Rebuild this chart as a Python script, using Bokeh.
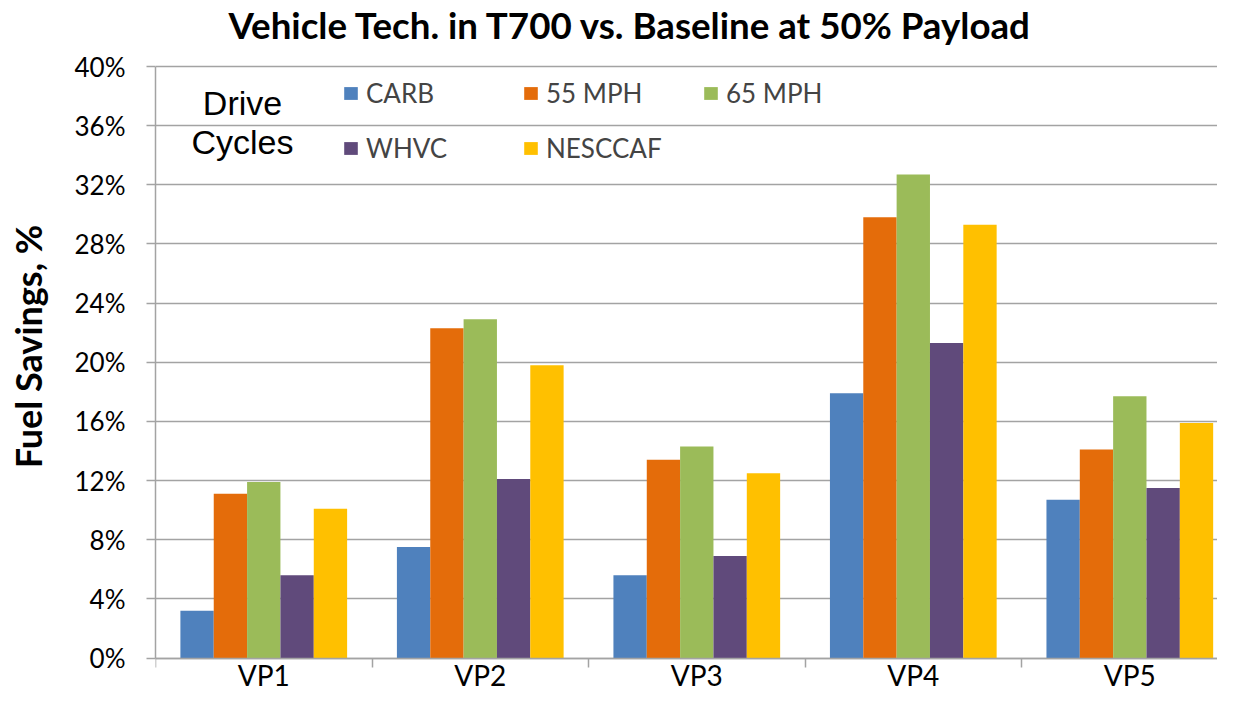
from bokeh.plotting import figure
from bokeh.models import (Range1d, FixedTicker, PrintfTickFormatter, Legend,
                          LegendItem, Label, ColumnDataSource)
from bokeh.embed import file_html
from bokeh.resources import INLINE

# ---------------- data ----------------
categories = ["VP1", "VP2", "VP3", "VP4", "VP5"]
series_names = ["CARB", "55 MPH", "65 MPH", "WHVC", "NESCCAF"]
carb = [3.2, 7.5, 5.6, 17.9, 10.7]
mph55 = [11.1, 22.3, 13.4, 29.8, 14.1]
mph65 = [11.9, 22.9, 14.3, 32.7, 17.7]
whvc = [5.6, 12.1, 6.9, 21.3, 11.5]
nesccaf = [10.1, 19.8, 12.5, 29.3, 15.9]
series_values = [carb, mph55, mph65, whvc, nesccaf]
colors = ["#4F81BD", "#E46C0A", "#9BBB59", "#604A7B", "#FFC000"]
y_ticks = [0, 4, 8, 12, 16, 20, 24, 28, 32, 36, 40]
title_text = "Vehicle Tech. in T700 vs. Baseline at 50% Payload"

FONT = "Lato"
GRID = "#A3A3A3"
H = 692                 # canvas height; the frame spans the full height
ZERO_LINE = 657.5       # px from top where the 0% line sits
TOP_LINE = 66           # px from top where the 40% line sits
Y_MAX = 40
px_per_unit = (ZERO_LINE - TOP_LINE) / Y_MAX
y_start = -(H - ZERO_LINE) / px_per_unit
y_end = Y_MAX + TOP_LINE / px_per_unit

p = figure(width=1217, height=H, x_range=Range1d(0, 4.905), y_range=Range1d(y_start, y_end),
           min_border_left=155, min_border_right=0, min_border_top=0, min_border_bottom=0,
           toolbar_location=None, output_backend="svg")
p.outline_line_color = None
p.background_fill_color = "white"
p.border_fill_color = "white"

bar_w = 0.154
offsets = [-2 * bar_w, -bar_w, 0, bar_w, 2 * bar_w]
renderers = []
for name, vals, col, off in zip(series_names, series_values, colors, offsets):
    src = ColumnDataSource(dict(x=[i + 0.5 + off for i in range(len(categories))], top=vals))
    r = p.vbar(x="x", top="top", width=bar_w, bottom=0, source=src, fill_color=col, line_color=None)
    renderers.append((name, r))

# y axis
p.yaxis.bounds = (0, Y_MAX)
p.yaxis.ticker = FixedTicker(ticks=y_ticks)
p.yaxis.formatter = PrintfTickFormatter(format="%d%%")
p.yaxis.major_tick_out = 9
p.yaxis.major_tick_in = 0
p.yaxis.minor_tick_out = 0
p.yaxis.minor_tick_in = 0
p.yaxis.axis_line_color = GRID
p.yaxis.axis_line_width = 1.5
p.yaxis.major_tick_line_color = GRID
p.yaxis.major_tick_line_width = 1.5
p.yaxis.major_label_text_font = FONT
p.yaxis.major_label_text_font_size = "26px"
p.yaxis.major_label_text_color = "black"
p.yaxis.major_label_standoff = 21
p.yaxis.axis_label = "Fuel Savings, %"
p.yaxis.axis_label_text_font = FONT
p.yaxis.axis_label_text_font_style = "bold"
p.yaxis.axis_label_text_font_size = "36px"
p.yaxis.axis_label_text_color = "black"
p.yaxis.axis_label_standoff = 22

# x axis, pinned at 0%
p.xaxis.fixed_location = 0
p.xaxis.ticker = FixedTicker(ticks=[i + 0.5 for i in range(len(categories))],
                             minor_ticks=list(range(len(categories) + 1)))
p.xaxis.major_label_overrides = {i + 0.5: c for i, c in enumerate(categories)}
p.xaxis.major_tick_out = 0
p.xaxis.major_tick_in = 0
p.xaxis.minor_tick_out = 9
p.xaxis.minor_tick_in = 0
p.xaxis.minor_tick_line_color = GRID
p.xaxis.minor_tick_line_width = 1.5
p.xaxis.axis_line_color = GRID
p.xaxis.axis_line_width = 1.5
p.xaxis.major_label_text_font = FONT
p.xaxis.major_label_text_font_size = "28px"
p.xaxis.major_label_text_color = "black"
p.xaxis.major_label_standoff = -9

p.xgrid.visible = False
p.ygrid.ticker = FixedTicker(ticks=y_ticks)
p.ygrid.grid_line_color = GRID
p.ygrid.grid_line_width = 1.5

# legend
legend = Legend(items=[LegendItem(label=n, renderers=[r]) for n, r in renderers],
                orientation="horizontal", ncols=3,
                glyph_width=17, glyph_height=16, label_standoff=7,
                label_width=133, label_height=16, spacing=23,
                padding=0, margin=0, border_line_color=None, background_fill_alpha=0,
                label_text_font=FONT, label_text_font_size="26px",
                location=(187, H - 164))
p.add_layout(legend)

# title (inside the full-height frame, screen units from frame bottom-left)
p.add_layout(Label(x=73, y=H - 24, x_units="screen", y_units="screen",
                   text=title_text, text_font=FONT, text_font_style="bold",
                   text_font_size="36.7px", text_align="left",
                   text_baseline="alphabetic", text_color="black"))

# "Drive Cycles" text inside the plot
p.add_layout(Label(x=87, y=H - 102, x_units="screen", y_units="screen", text="Drive",
                   text_font="Liberation Sans", text_font_size="34px", text_align="center",
                   text_baseline="alphabetic", text_color="black"))
p.add_layout(Label(x=87, y=H - 141, x_units="screen", y_units="screen", text="Cycles",
                   text_font="Liberation Sans", text_font_size="34px", text_align="center",
                   text_baseline="alphabetic", text_color="black"))

open("out.html", "w").write(file_html(p, INLINE))
